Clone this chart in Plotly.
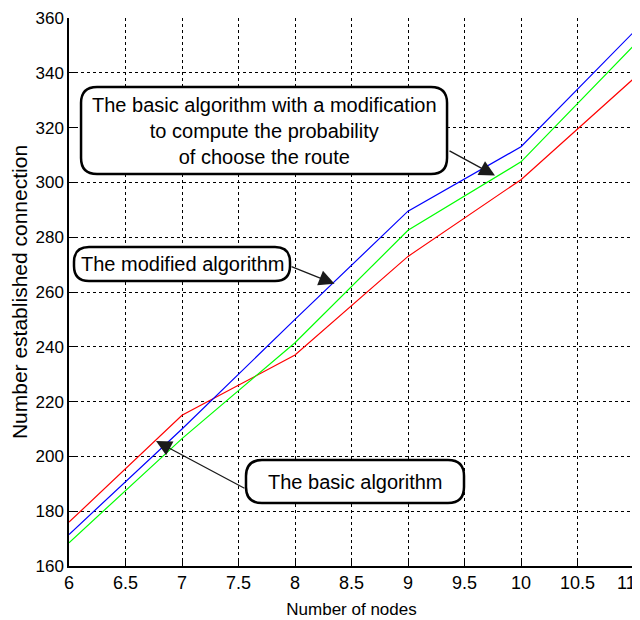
import plotly.graph_objects as go

nodes = [6, 7, 8, 9, 10, 11]
basic = [176, 215, 237, 273, 301, 338]
modified = [171.5, 210, 250, 289.5, 313, 355]
basic_mod_prob = [168.5, 206.5, 241.5, 282.5, 307.5, 350]

x_ticks = [6, 6.5, 7, 7.5, 8, 8.5, 9, 9.5, 10, 10.5, 11]
x_tick_labels = ["6", "6.5", "7", "7.5", "8", "8.5", "9", "9.5", "10", "10.5", ""]
last_x_label = "11"
y_ticks = [160, 180, 200, 220, 240, 260, 280, 300, 320, 340, 360]

FONT = "Liberation Sans Narrow, Arial Narrow, Liberation Sans, Arial, sans-serif"

fig = go.Figure()
fig.add_trace(go.Scatter(x=nodes, y=basic, mode="lines", line=dict(color="#ff0000", width=1.2), name="basic"))
fig.add_trace(go.Scatter(x=nodes, y=basic_mod_prob, mode="lines", line=dict(color="#00ff00", width=1.2), name="prob"))
fig.add_trace(go.Scatter(x=nodes, y=modified, mode="lines", line=dict(color="#0000ff", width=1.2), name="modified"))


def rounded_box(cx, cy, w, h, r):
    hw, hh = w / 2, h / 2
    path = (f"M {-hw + r},{-hh} L {hw - r},{-hh} Q {hw},{-hh} {hw},{-hh + r} "
            f"L {hw},{hh - r} Q {hw},{hh} {hw - r},{hh} L {-hw + r},{hh} "
            f"Q {-hw},{hh} {-hw},{hh - r} L {-hw},{-hh + r} Q {-hw},{-hh} {-hw + r},{-hh} Z")
    return dict(type="path", xref="x", yref="y", xsizemode="pixel", ysizemode="pixel",
                xanchor=cx, yanchor=cy, path=path, fillcolor="white",
                line=dict(color="black", width=2.5), layer="above")


shapes = [
    rounded_box(7.726, 318.9, 366, 87, 16),
    rounded_box(7.0, 270.2, 216, 34, 15),
    rounded_box(8.531, 190.8, 218, 43, 16),
]

annotations = []
# arrows
for tip, tail in [((9.77, 302.5), (9.354, 311.8)),
                  ((8.35, 263.0), (7.956, 269.5)),
                  ((6.77, 205.6), (7.566, 188.1))]:
    annotations.append(dict(x=tip[0], y=tip[1], ax=tail[0], ay=tail[1], xref="x", yref="y",
                            axref="x", ayref="y", text="", showarrow=True, arrowhead=2,
                            arrowsize=2.4, arrowwidth=1.3, arrowcolor="#1a1a1a"))
# texts
annotations.append(dict(x=7.726, y=318.9, xref="x", yref="y", showarrow=False,
                        text="The basic algorithm with a modification<br>to compute the probability<br>of choose the route",
                        font=dict(family=FONT, size=20, color="black"), align="center"))
annotations.append(dict(x=7.0, y=270.2, xref="x", yref="y", showarrow=False,
                        text="The modified algorithm", font=dict(family=FONT, size=20, color="black")))
annotations.append(dict(x=8.531, y=190.8, xref="x", yref="y", showarrow=False,
                        text="The basic algorithm", font=dict(family=FONT, size=20, color="black")))
# last x tick label kept inside the visible window
annotations.append(dict(x=x_ticks[-1], y=0, xref="x", yref="paper", showarrow=False,
                        text=last_x_label, xanchor="right", yanchor="top", xshift=4, yshift=-5,
                        font=dict(family=FONT, size=18, color="black")))

fig.update_layout(
    width=640, height=620,
    margin=dict(l=61, r=14, t=10, b=62),
    paper_bgcolor="white", plot_bgcolor="white",
    showlegend=False,
    shapes=shapes, annotations=annotations,
    font=dict(family=FONT, color="black", size=17),
)
fig.update_xaxes(range=[6, 11], tickvals=x_ticks, ticktext=x_tick_labels,
                 showgrid=True, gridcolor="black", griddash="3px,3px", gridwidth=1,
                 showline=True, linecolor="black", linewidth=1.5, ticks="inside", ticklen=6,
                 tickcolor="black", zeroline=False, automargin=False,
                 ticklabeloverflow="allow",
                 title=dict(text="Number of nodes", font=dict(size=17), standoff=11),
                 tickfont=dict(size=18))
fig.update_yaxes(range=[160, 360], tickvals=y_ticks,
                 showgrid=True, gridcolor="black", griddash="3px,3px", gridwidth=1,
                 showline=True, linecolor="black", linewidth=1.5, ticks="inside", ticklen=6,
                 tickcolor="black", zeroline=False, automargin=False,
                 ticklabeloverflow="allow",
                 title=dict(text="Number established connection", font=dict(size=21), standoff=10),
                 tickfont=dict(size=17))

fig.write_html("out.html")
